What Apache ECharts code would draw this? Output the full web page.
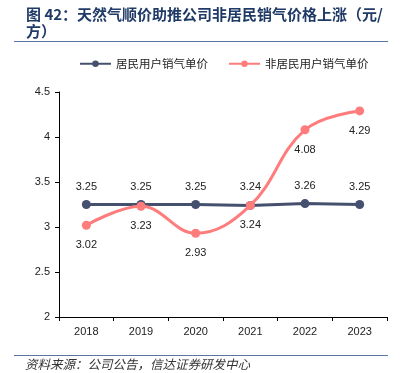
<!DOCTYPE html>
<html><head><meta charset="utf-8">
<script src="https://cdn.jsdelivr.net/npm/echarts@6/dist/echarts.min.js"></script>
<style>html,body{margin:0;padding:0;background:#fff}#c{width:405px;height:373px}</style>
</head><body><div id="c"></div>
<script>
const categories = ['2018','2019','2020','2021','2022','2023'];
const residential = [3.25, 3.25, 3.25, 3.24, 3.26, 3.25];
const nonResidential = [3.02, 3.23, 2.93, 3.24, 4.08, 4.29];
const seriesNames = ['居民用户销气单价', '非居民用户销气单价'];
const yTicks = [2, 2.5, 3, 3.5, 4, 4.5];

const chart = echarts.init(document.getElementById('c'), null, {renderer:'canvas'});
const font = 'Liberation Sans, Arial, Noto Sans CJK SC, sans-serif';
chart.setOption({
  animation:false,
  backgroundColor:'#fff',
  title:{
    text:'图 42：天然气顺价助推公司非居民销气价格上涨（元/\n方）',
    left:21, top:1,
    textStyle:{fontSize:15, fontWeight:'bold', color:'#1f3a66', fontFamily:'Noto Sans CJK SC', lineHeight:17}
  },
  graphic:[
    {type:'line', shape:{x1:14,y1:41.5,x2:388,y2:41.5}, style:{stroke:'#5a76a0', lineWidth:1.2}},
    {type:'line', shape:{x1:14,y1:355.5,x2:388,y2:355.5}, style:{stroke:'#5a76a0', lineWidth:1.2}},
    {type:'text', left:25, top:358, style:{text:'资料来源：公司公告，信达证券研发中心', fill:'#333', font:'italic 12.5px Noto Sans CJK SC'}}
  ],
  legend:{
    top:53, left:74, itemGap:20, itemWidth:31, itemHeight:8,
    textStyle:{fontSize:11.5, color:'#222', fontFamily:'Noto Sans CJK SC'},
    data:seriesNames
  },
  grid:{left:59, right:18, top:92, bottom:56},
  xAxis:{
    type:'category', data:categories, boundaryGap:true,
    axisLine:{lineStyle:{color:'#000', width:1}},
    axisTick:{show:true, alignWithLabel:false, length:4, lineStyle:{color:'#000'}},
    axisLabel:{fontSize:11, color:'#222', margin:9, fontFamily:font}
  },
  yAxis:{
    type:'value', min:yTicks[0], max:yTicks[yTicks.length-1], interval:0.5,
    axisLine:{show:true, lineStyle:{color:'#000', width:1}},
    axisTick:{show:true, length:4, lineStyle:{color:'#000'}},
    splitLine:{show:false},
    axisLabel:{fontSize:11, color:'#222', margin:9, fontFamily:font}
  },
  series:[
    {
      name:seriesNames[0], type:'line', data:residential,
      symbol:'circle', symbolSize:9,
      lineStyle:{color:'#45506f', width:3},
      itemStyle:{color:'#45506f'},
      label:{show:true, position:'top', distance:8, fontSize:11, color:'#222', fontFamily:font, formatter:p=>p.value.toFixed(2)},
      z:2
    },
    {
      name:seriesNames[1], type:'line', data:nonResidential, smooth:0.4,
      symbol:'circle', symbolSize:9,
      lineStyle:{color:'#ff7c7c', width:3},
      itemStyle:{color:'#ff7c7c'},
      label:{show:true, position:'bottom', distance:10, fontSize:11, color:'#222', fontFamily:font, formatter:p=>p.value.toFixed(2)},
      z:3
    }
  ]
});
</script></body></html>
